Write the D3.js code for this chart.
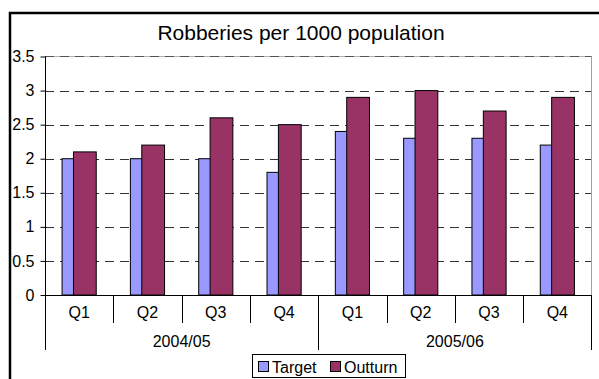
<!DOCTYPE html>
<html>
<head>
<meta charset="utf-8">
<script src="https://cdn.jsdelivr.net/npm/d3@7"></script>
<style>
  html, body { margin: 0; padding: 0; background: #fff; }
  svg { display: block; font-family: "Liberation Sans", Arial, sans-serif; }
</style>
</head>
<body>
<svg id="chart" width="599" height="379"></svg>
<script>
// Quarterly robbery rates per 1000 population
const years = ["2004/05", "2005/06"];
const quarters = ["Q1", "Q2", "Q3", "Q4"];
const categories = ["2004/05 Q1", "2004/05 Q2", "2004/05 Q3", "2004/05 Q4",
                    "2005/06 Q1", "2005/06 Q2", "2005/06 Q3", "2005/06 Q4"];
const target  = [2.0, 2.0, 2.0, 1.8, 2.4, 2.3, 2.3, 2.2];
const outturn = [2.1, 2.2, 2.6, 2.5, 2.9, 3.0, 2.7, 2.9];
const yTicks = [0, 0.5, 1, 1.5, 2, 2.5, 3, 3.5];
const seriesNames = ["Target", "Outturn"];
const seriesColors = ["#9999FF", "#993366"];

const svg = d3.select("#chart");
const plot = { left: 45, right: 591.5, top: 56.5, bottom: 295 };
const fontFamily = "Liberation Sans, Arial, sans-serif";

// Title
svg.append("text")
  .attr("x", 301).attr("y", 40)
  .attr("text-anchor", "middle")
  .attr("font-size", 21)
  .text("Robberies per 1000 population");

const x = d3.scaleBand().domain(categories).range([plot.left, plot.right]).padding(0);
const y = d3.scaleLinear().domain([0, 3.5]).range([plot.bottom, plot.top]);

// Dashed gridlines for interior ticks
svg.append("g").selectAll("line")
  .data(yTicks.filter(v => v > 0 && v < 3.5))
  .join("line")
  .attr("x1", plot.left).attr("x2", plot.right)
  .attr("y1", d => Math.round(y(d)) + 0.5).attr("y2", d => Math.round(y(d)) + 0.5)
  .attr("stroke", "#333").attr("stroke-dasharray", "9,6");

// Plot area border: right edge grey, top edge dashed grey
svg.append("line")
  .attr("x1", plot.right).attr("x2", plot.right)
  .attr("y1", plot.top).attr("y2", plot.bottom)
  .attr("stroke", "#a0a0a0");
svg.append("line")
  .attr("x1", plot.left).attr("x2", plot.right)
  .attr("y1", plot.top).attr("y2", plot.top)
  .attr("stroke", "#b0b0b0");
svg.append("line")
  .attr("x1", plot.left).attr("x2", plot.right)
  .attr("y1", plot.top).attr("y2", plot.top)
  .attr("stroke", "#555").attr("stroke-dasharray", "9,6");

// Bars: width w, overlap 50%, gap width 150%
const w = x.bandwidth() / 3;
const offsets = [0.75 * w, 1.25 * w];
[target, outturn].forEach((vals, si) => {
  svg.append("g").selectAll("rect")
    .data(vals)
    .join("rect")
    .attr("x", (d, i) => x(categories[i]) + offsets[si])
    .attr("y", d => y(d))
    .attr("width", w)
    .attr("height", d => y(0) - y(d))
    .attr("fill", seriesColors[si])
    .attr("stroke", "#000").attr("stroke-width", 1);
});

// Y axis
const yAxis = d3.axisLeft(y).tickValues(yTicks).tickSize(5).tickPadding(6)
  .tickFormat(d => String(d));
const yg = svg.append("g").attr("transform", `translate(${plot.left + 0.5},0)`).call(yAxis);
yg.select(".domain").remove();
yg.append("line").attr("y1", plot.top).attr("y2", plot.bottom).attr("stroke", "#000");
yg.selectAll("text").attr("font-size", 16).attr("fill", "#000")
  .attr("font-family", fontFamily);

// X axis baseline
svg.append("line")
  .attr("x1", plot.left).attr("x2", plot.right)
  .attr("y1", plot.bottom + 0.5).attr("y2", plot.bottom + 0.5)
  .attr("stroke", "#000");

// Quarter separators and labels
const xg = svg.append("g");
categories.forEach((c, i) => {
  const xs = Math.round(x(c)) + 0.5;
  const isYearEdge = i % 4 === 0;
  xg.append("line")
    .attr("x1", xs).attr("x2", xs)
    .attr("y1", plot.bottom).attr("y2", isYearEdge ? 350 : 323)
    .attr("stroke", "#000");
  xg.append("text")
    .attr("x", x(c) + x.bandwidth() / 2).attr("y", 318)
    .attr("text-anchor", "middle").attr("font-size", 16)
    .text(quarters[i % 4]);
});
xg.append("line")
  .attr("x1", Math.round(plot.right) - 0.5).attr("x2", Math.round(plot.right) - 0.5)
  .attr("y1", plot.bottom).attr("y2", 350).attr("stroke", "#000");

// Year labels
years.forEach((yr, j) => {
  const x0 = x(categories[j * 4]);
  const x1 = x(categories[j * 4 + 3]) + x.bandwidth();
  xg.append("text")
    .attr("x", (x0 + x1) / 2).attr("y", 347)
    .attr("text-anchor", "middle").attr("font-size", 16)
    .text(yr);
});

// Legend
const lg = svg.append("g");
lg.append("rect")
  .attr("x", 252.5).attr("y", 354.5).attr("width", 153).attr("height", 23)
  .attr("fill", "#fff").attr("stroke", "#000");
const legendX = [258, 330];
seriesNames.forEach((name, i) => {
  lg.append("rect")
    .attr("x", legendX[i] + 0.5).attr("y", 361.5).attr("width", 10).attr("height", 10)
    .attr("fill", seriesColors[i]).attr("stroke", "#000");
  lg.append("text")
    .attr("x", legendX[i] + 14).attr("y", 373)
    .attr("font-size", 16)
    .text(name);
});

// Outer frame (left and top edges visible), drawn over the tick labels
svg.append("path")
  .attr("d", `M10,379 V13 H599`)
  .attr("fill", "none").attr("stroke", "#000").attr("stroke-width", 2.5);
</script>
</body>
</html>
